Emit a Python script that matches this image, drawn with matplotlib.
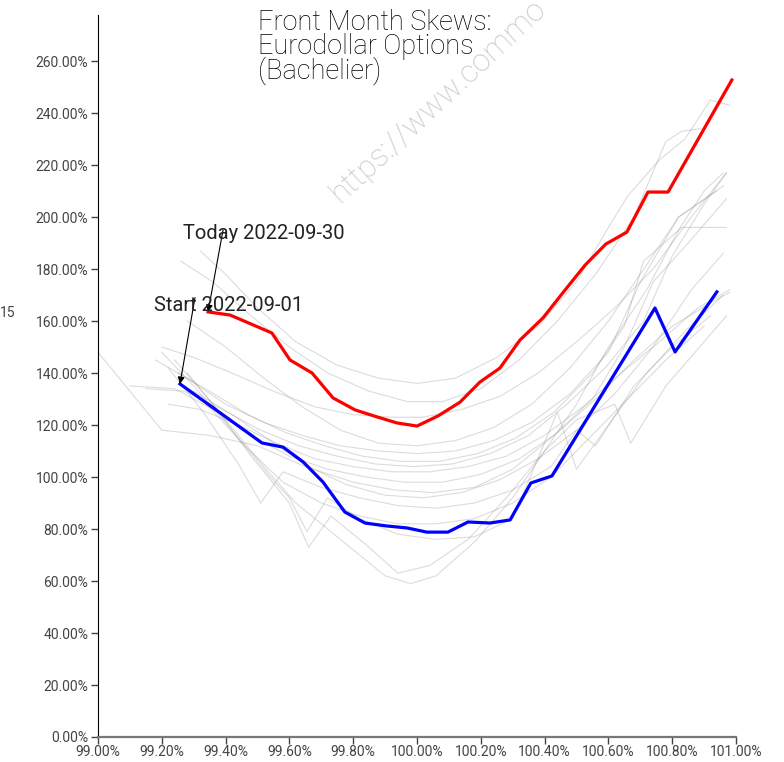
import matplotlib.pyplot as plt
from matplotlib.ticker import FuncFormatter, MultipleLocator

# Today (2022-09-30) skew
today_x = [99.345, 99.414, 99.545, 99.602, 99.671, 99.737, 99.806, 99.875, 99.937, 100.000,
           100.066, 100.135, 100.197, 100.260, 100.323, 100.395, 100.464, 100.527, 100.592,
           100.658, 100.724, 100.787, 100.987]
today_y = [163.5, 162.3, 155.4, 145.0, 140.0, 130.4, 125.8, 123.1, 120.8, 119.6,
           123.5, 128.8, 136.5, 141.9, 152.7, 161.2, 171.9, 181.5, 189.6,
           194.2, 209.6, 209.6, 252.7]

# Start (2022-09-01) skew
start_x = [99.257, 99.514, 99.580, 99.643, 99.705, 99.774, 99.837, 99.903, 99.969, 100.031,
           100.097, 100.160, 100.229, 100.292, 100.357, 100.423, 100.746, 100.809, 100.940]
start_y = [135.8, 113.1, 111.5, 105.8, 98.1, 86.5, 82.3, 81.2, 80.4, 78.8,
           78.8, 82.7, 82.3, 83.5, 97.7, 100.4, 165.0, 148.1, 171.2]

# days in between (grey)
mid_x = [
    [99.32, 99.40, 99.50, 99.62, 99.75, 99.88, 100.00, 100.12, 100.25, 100.38, 100.50, 100.60, 100.66, 100.76, 100.84, 100.92, 100.98],
    [99.26, 99.36, 99.48, 99.60, 99.72, 99.85, 99.97, 100.08, 100.20, 100.32, 100.44, 100.56, 100.68, 100.78, 100.83, 100.89],
    [99.20, 99.30, 99.42, 99.55, 99.68, 99.80, 99.92, 100.02, 100.14, 100.26, 100.38, 100.50, 100.62, 100.74, 100.86, 100.97],
    [99.18, 99.28, 99.40, 99.52, 99.64, 99.76, 99.88, 100.00, 100.12, 100.24, 100.36, 100.48, 100.60, 100.70, 100.82, 100.96],
    [99.25, 99.35, 99.47, 99.59, 99.71, 99.83, 99.95, 100.07, 100.19, 100.31, 100.43, 100.55, 100.65, 100.71, 100.83, 100.97],
    [99.15, 99.27, 99.39, 99.51, 99.63, 99.75, 99.87, 99.99, 100.11, 100.23, 100.35, 100.47, 100.59, 100.71, 100.80, 100.90, 100.97],
    [99.22, 99.32, 99.44, 99.56, 99.68, 99.80, 99.92, 100.04, 100.16, 100.28, 100.40, 100.52, 100.64, 100.76, 100.88, 100.98],
    [99.10, 99.24, 99.36, 99.48, 99.60, 99.72, 99.84, 99.96, 100.08, 100.20, 100.32, 100.44, 100.56, 100.68, 100.80, 100.92, 100.98],
    [99.00, 99.20, 99.35, 99.50, 99.65, 99.80, 99.93, 100.05, 100.18, 100.30, 100.42, 100.55, 100.65, 100.74, 100.85, 100.97],
    [99.22, 99.33, 99.44, 99.51, 99.58, 99.70, 99.82, 99.94, 100.06, 100.18, 100.30, 100.42, 100.50, 100.56, 100.68, 100.80, 100.92],
    [99.20, 99.30, 99.42, 99.54, 99.60, 99.655, 99.72, 99.82, 99.94, 100.06, 100.18, 100.30, 100.44, 100.50, 100.60, 100.72, 100.84, 100.96],
    [99.24, 99.36, 99.48, 99.60, 99.66, 99.73, 99.84, 99.94, 100.04, 100.16, 100.28, 100.40, 100.50, 100.62, 100.67, 100.78, 100.90, 100.97],
    [99.28, 99.40, 99.52, 99.62, 99.72, 99.80, 99.90, 99.98, 100.06, 100.18, 100.30, 100.40, 100.50, 100.60, 100.72, 100.82, 100.90, 100.96],
    [99.30, 99.42, 99.54, 99.66, 99.78, 99.90, 100.02, 100.14, 100.26, 100.38, 100.50, 100.62, 100.74, 100.86, 100.96],
    [99.28, 99.40, 99.52, 99.64, 99.76, 99.88, 100.00, 100.12, 100.24, 100.36, 100.48, 100.60, 100.70, 100.82, 100.94],
    [99.34, 99.46, 99.58, 99.70, 99.82, 99.94, 100.06, 100.18, 100.30, 100.42, 100.54, 100.66, 100.78, 100.90],
]
mid_y = [
    [187, 178, 165, 152, 143, 138, 136, 138, 146, 158, 175, 196, 208, 222, 230, 245, 243],
    [183, 175, 162, 150, 140, 133, 129, 129, 134, 145, 160, 178, 200, 229, 233, 234],
    [150, 146, 140, 133, 127, 124, 123, 123, 126, 131, 140, 152, 165, 180, 200, 217],
    [145, 138, 128, 121, 116, 112, 110, 109, 110, 114, 121, 132, 148, 175, 200, 212],
    [140, 133, 124, 117, 112, 108, 106, 106, 109, 115, 125, 140, 158, 183, 196, 196],
    [134, 133, 126, 118, 112, 108, 105, 104, 105, 109, 116, 128, 142, 160, 185, 205, 217],
    [128, 126, 120, 113, 107, 104, 102, 102, 104, 108, 116, 127, 140, 152, 165, 172],
    [135, 134, 126, 116, 108, 103, 100, 98, 98, 101, 107, 117, 130, 145, 158, 167, 171],
    [148, 118, 116, 112, 104, 98, 95, 94, 96, 103, 115, 130, 150, 175, 190, 207],
    [142, 125, 105, 90, 102, 96, 92, 89, 88, 90, 95, 104, 118, 112, 135, 150, 162],
    [148, 135, 118, 100, 92, 79, 92, 84, 78, 76, 77, 84, 125, 103, 120, 140, 156, 170],
    [145, 128, 108, 90, 73, 85, 74, 63, 66, 76, 92, 110, 122, 128, 113, 135, 152, 162],
    [140, 122, 104, 90, 80, 72, 62, 59, 62, 75, 92, 110, 128, 150, 172, 195, 210, 217],
    [133, 124, 114, 104, 97, 93, 92, 94, 99, 107, 118, 132, 150, 172, 186],
    [160, 150, 138, 127, 118, 113, 112, 114, 119, 128, 142, 160, 178, 200, 210],
    [128, 112, 98, 90, 85, 82, 82, 84, 90, 100, 115, 130, 145, 158],
]

plt.rcParams['font.family'] = ['Roboto', 'DejaVu Sans']

fig = plt.figure(figsize=(7.84, 7.62), dpi=100)
ax = fig.add_axes([98 / 784, 25 / 762, 638 / 784, 722 / 762])

for xs, ys in zip(mid_x, mid_y):
    ax.plot(xs, ys, color='grey', alpha=0.28, lw=0.8)

ax.plot(today_x, today_y, color='#ff0000', lw=2.3)
ax.plot(start_x, start_y, color='#0000ff', lw=2.3)

# labels with arrows
ax.annotate('', xy=(today_x[0], today_y[0]), xytext=(99.392, 195),
            arrowprops=dict(arrowstyle='-|>', color='black', lw=0.8, shrinkA=0, shrinkB=0))
ax.annotate('', xy=(start_x[0], start_y[0]), xytext=(99.304, 169),
            arrowprops=dict(arrowstyle='-|>', color='black', lw=0.8, shrinkA=0, shrinkB=0))
ax.text(99.266, 193.5, 'Today 2022-09-30', fontsize=14.5, color='#222222',
        va='center', ha='left')
ax.text(99.176, 165.8, 'Start 2022-09-01', fontsize=14.5, color='#222222',
        va='center', ha='left')

ax.set_xlim(99.0, 101.0)
ax.set_ylim(0, 277.7)
ax.xaxis.set_major_locator(MultipleLocator(0.2))
ax.yaxis.set_major_locator(MultipleLocator(20))
ax.xaxis.set_major_formatter(FuncFormatter(lambda v, p: f'{v:.2f}%'))
ax.yaxis.set_major_formatter(FuncFormatter(lambda v, p: f'{v:.2f}%'))
ax.tick_params(axis='both', labelsize=10, colors='#444444', length=5, width=1, pad=2)
ax.tick_params(axis='x', pad=1)

for s in ['top', 'right']:
    ax.spines[s].set_visible(False)
ax.spines['left'].set_color('black')
ax.spines['bottom'].set_color('#777777')
ax.spines['bottom'].set_linewidth(1.6)

fig.text(258 / 784, 1 - 9 / 762, 'Front Month Skews:\nEurodollar Options\n(Bachelier)',
         fontsize=19.5, fontweight='light', color='black', ha='left', va='top', linespacing=0.85)

# watermark, runs off the top edge like the original
fig.text(344 / 784, 1 - 208 / 762, 'https://www.commo', fontsize=22.5,
         color='#c4c4c4', rotation=43, rotation_mode='anchor', ha='left', va='bottom',
         fontweight='light')

fig.text(0, 1 - 313 / 762, '15', fontsize=10, color='#444444', ha='left', va='center')

fig.savefig('out.png', dpi=100)
